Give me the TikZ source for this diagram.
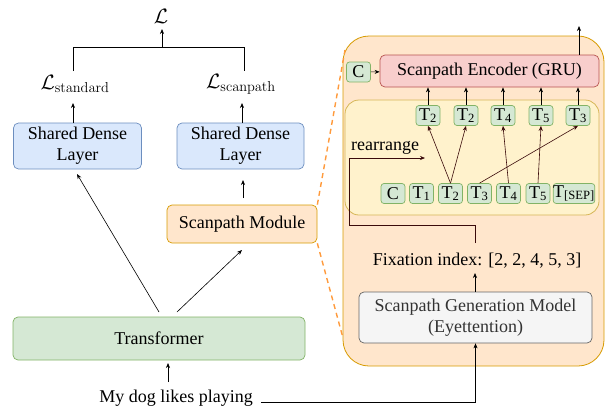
\documentclass[tikz,border=0pt]{standalone}
\usepackage[no-math]{fontspec}
\setmainfont{Liberation Serif}
\usetikzlibrary{arrows.meta}
\definecolor{bluef}{HTML}{DAE8FC}\definecolor{blued}{HTML}{6C8EBF}
\definecolor{greenf}{HTML}{D5E8D4}\definecolor{greend}{HTML}{82B366}
\definecolor{orangef}{HTML}{FFE6CC}\definecolor{oranged}{HTML}{D79B00}
\definecolor{yellowf}{HTML}{FFF2CC}\definecolor{yellowd}{HTML}{D6B656}
\definecolor{redf}{HTML}{F8CECC}\definecolor{redd}{HTML}{B85450}
\definecolor{grayf}{HTML}{F5F5F5}\definecolor{grayd}{HTML}{666666}
\definecolor{brownline}{HTML}{3A0A0A}
\definecolor{dashor}{HTML}{FF9A3C}
\begin{document}
\begin{tikzpicture}[x=1pt,y=-1pt,
  every node/.style={font=\fontsize{18}{20}\selectfont, inner sep=0pt},
  mathlbl/.style={font=\fontsize{21}{23}\selectfont},
  box/.style={draw, rounded corners=5pt, line width=0.7pt, align=center},
  bluebox/.style={box, fill=bluef, draw=blued},
  greenbox/.style={box, fill=greenf, draw=greend},
  orangebox/.style={box, fill=orangef, draw=oranged},
  tok/.style={box, rounded corners=3pt, fill=greenf, draw=greend, minimum height=20pt, minimum width=24pt},
  arr/.style={-{Stealth[length=5pt,width=4pt]}, line width=0.6pt},
  barr/.style={arr, draw=brownline},
]
\useasboundingbox (0,0) rectangle (606,408);

% right panel containers
\node[draw=oranged, fill=orangef, rounded corners=26pt, line width=0.8pt, minimum width=261pt, minimum height=330pt] (panel) at (473.5,201) {};
\node[draw=yellowd, fill=yellowf, rounded corners=14pt, line width=0.8pt, minimum width=254pt, minimum height=115pt] (inner) at (472,157.5) {};

% left part
\node[mathlbl] (L) at (161,16) {$\mathcal{L}$};
\node[mathlbl] (Lstd) at (75,84) {$\mathcal{L}_{\mathrm{standard}}$};
\node[mathlbl] (Lscan) at (241,84) {$\mathcal{L}_{\mathrm{scanpath}}$};
\node[bluebox, minimum width=128pt, minimum height=46pt] (sdl1) at (77.5,146) {Shared Dense\\[1pt]Layer};
\node[bluebox, minimum width=127pt, minimum height=46pt] (sdl2) at (240.5,146) {Shared Dense\\[1pt]Layer};
\node[orangebox, minimum width=150pt, minimum height=38pt] (sm) at (242,224) {Scanpath Module};
\node[greenbox, minimum width=292pt, minimum height=43pt] (tr) at (159,338.5) {Transformer};
\node (inp) at (176,398) {My dog likes playing};

\coordinate (bl) at (73,71);
\coordinate (br) at (244,71);
\coordinate (bm) at (162,47.7);
\draw[line width=0.6pt] (bl) -- (73,47.7) -- (244,47.7) -- (br);
\draw[arr] (bm) -- (162,29);
\draw[arr] (sdl1.north -| bl) -- (73,103);
\draw[arr] (sdl2.north -| 242,0) -- (242,103);
\draw[arr] (159,312) -- (77,174);
\draw[arr] (177,312) -- (242,250);
\draw[arr] (243,198) -- (243,180);
\draw[arr] (168,382) -- (168,363);

% dashed zoom lines
\draw[dashor, line width=1.4pt, dash pattern=on 5pt off 4pt] (sm.north east) -- (345,50);
\draw[dashor, line width=1.4pt, dash pattern=on 5pt off 4pt] (sm.south east) -- (343,338);

% right internals
\node[tok] (c0) at (358.5,72) {C};
\node[box, fill=redf, draw=redd, minimum width=219pt, minimum height=32pt] (enc) at (489.5,71) {Scanpath Encoder (GRU)};
\draw[arr] (c0) -- (enc);
\coordinate (out) at (579,26);
\draw[arr] (enc.north -| out) -- (out);

\node[tok] (o1) at (428,115.5) {T\textsubscript{2}};
\node[tok] (o2) at (466,115.5) {T\textsubscript{2}};
\node[tok] (o3) at (503,115.5) {T\textsubscript{4}};
\node[tok] (o4) at (541,115.5) {T\textsubscript{5}};
\node[tok] (o5) at (578,115.5) {T\textsubscript{3}};
\foreach \n in {o1,o2,o3,o4,o5} \draw[arr] (\n.north) -- (\n.north |- enc.south);

\node[tok] (i0) at (393,193.5) {C};
\node[tok] (i1) at (421.5,193.5) {T\textsubscript{1}};
\node[tok] (i2) at (450.5,193.5) {T\textsubscript{2}};
\node[tok] (i3) at (479.5,193.5) {T\textsubscript{3}};
\node[tok] (i4) at (508.5,193.5) {T\textsubscript{4}};
\node[tok] (i5) at (538,193.5) {T\textsubscript{5}};
\node[tok, minimum width=40pt] (i6) at (574,193.5) {T\textsubscript{[SEP]}};

\draw[barr] (i2.north) -- (o1.south);
\draw[barr] (i2.north) -- (o2.south);
\draw[barr] (i3.north) -- (o5.south);
\draw[barr] (i4.north) -- (o3.south);
\draw[barr] (i5.north) -- (o4.south);

\node[anchor=south west] (rea) at (351,155) {rearrange};

\node (fix) at (477,261) {Fixation index: [2, 2, 4, 5, 3]};
\node[box, fill=grayf, draw=grayd, text=black!80, minimum width=233pt, minimum height=51pt] (sgm) at (475.5,317.5) {Scanpath Generation Model\\[1pt](Eyettention)};
\coordinate (ra) at (425,158);
\draw[barr] (475,243) -- (475,225) -- (349,225) -- (349,158) -- (ra);
\draw[arr] (sgm.north -| 475,0) -- (475,273);
\draw[arr] ([xshift=8pt,yshift=-4pt]inp.east) -| (sgm.south);
\end{tikzpicture}
\end{document}
